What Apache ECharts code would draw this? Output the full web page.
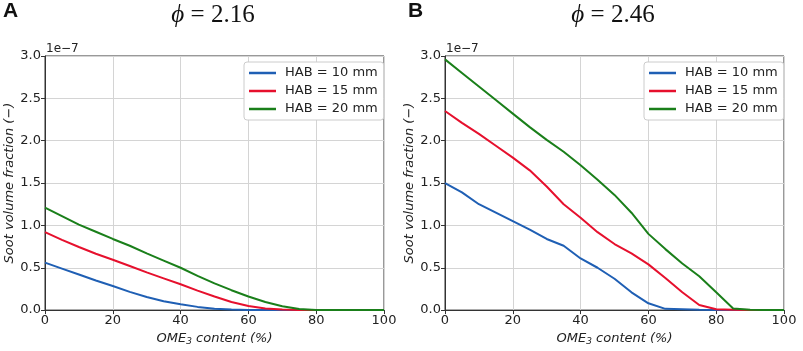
<!DOCTYPE html>
<html>
<head>
<meta charset="utf-8">
<script src="https://cdn.jsdelivr.net/npm/echarts@6/dist/echarts.min.js"></script>
<style>
  html, body { margin: 0; padding: 0; background: #fff; }
  #chart { width: 803px; height: 351px; }
</style>
</head>
<body>
<div id="chart"></div>
<script>
// OME3 content (%), shared by both panels
var omeContent = [0, 5, 10, 15, 20, 25, 30, 35, 40, 45, 50, 55, 60, 65, 70, 75, 80, 85, 90, 95, 100];
var seriesNames = ['HAB = 10 mm', 'HAB = 15 mm', 'HAB = 20 mm'];

// panel A, phi = 2.16  (units of 1e-7)
var a_hab10 = [0.56, 0.49, 0.42, 0.35, 0.285, 0.215, 0.155, 0.105, 0.068, 0.038, 0.017, 0.006, 0.001, 0, 0, 0, 0, 0, 0, 0, 0];
var a_hab15 = [0.92, 0.83, 0.745, 0.665, 0.595, 0.52, 0.445, 0.375, 0.305, 0.23, 0.16, 0.095, 0.048, 0.018, 0.006, 0.001, 0, 0, 0, 0, 0];
var a_hab20 = [1.21, 1.11, 1.01, 0.925, 0.84, 0.76, 0.67, 0.585, 0.50, 0.405, 0.315, 0.235, 0.16, 0.095, 0.045, 0.012, 0.002, 0, 0, 0, 0];

// panel B, phi = 2.46
var b_hab10 = [1.50, 1.39, 1.25, 1.15, 1.05, 0.95, 0.84, 0.76, 0.61, 0.50, 0.37, 0.21, 0.08, 0.015, 0.01, 0.005, 0.002, 0, 0, 0, 0];
var b_hab15 = [2.35, 2.21, 2.08, 1.94, 1.80, 1.65, 1.46, 1.25, 1.09, 0.92, 0.78, 0.67, 0.54, 0.38, 0.21, 0.06, 0.01, 0.005, 0, 0, 0];
var b_hab20 = [2.96, 2.80, 2.64, 2.48, 2.32, 2.16, 2.01, 1.87, 1.71, 1.54, 1.36, 1.15, 0.90, 0.72, 0.55, 0.40, 0.21, 0.02, 0.005, 0, 0];

var colors = ['#1f5fb4', '#e6102d', '#1a7f1a'];

function pairs(ys) {
    return omeContent.map(function (x, i) { return [x, ys[i]]; });
}

var chart = echarts.init(document.getElementById('chart'));

var axisFont = 'DejaVu Sans';
var frameColor = '#333';

function makeX(idx) {
    return {
        type: 'value', gridIndex: idx, min: 0, max: 100, interval: 20,
        name: 'OME{sub|3} content (%)',
        nameLocation: 'middle', nameGap: 19,
        nameTextStyle: {
            fontFamily: axisFont, fontStyle: 'italic', fontSize: 13, color: '#222',
            rich: { sub: { fontFamily: axisFont, fontStyle: 'italic', fontSize: 9, verticalAlign: 'bottom', padding: [6, 0, 0, 0], color: '#222' } }
        },
        axisLine: { show: true, onZero: false, lineStyle: { color: frameColor, width: 1 } },
        axisTick: { show: true, length: 4, inside: false, lineStyle: { color: frameColor } },
        axisLabel: { fontFamily: axisFont, fontSize: 13, color: '#222', margin: 4 },
        splitLine: { show: true, lineStyle: { color: '#d4d4d4', width: 1 } }
    };
}

function makeY(idx) {
    return {
        type: 'value', gridIndex: idx, min: 0, max: 3.0, interval: 0.5,
        name: 'Soot volume fraction (−)',
        nameLocation: 'middle', nameGap: 25,
        nameTextStyle: { fontFamily: axisFont, fontStyle: 'italic', fontSize: 13, color: '#222' },
        axisLine: { show: true, lineStyle: { color: frameColor, width: 1 } },
        axisTick: { show: true, length: 4, inside: false, lineStyle: { color: frameColor } },
        axisLabel: {
            fontFamily: axisFont, fontSize: 13, color: '#222', margin: 4,
            formatter: function (v) { return v.toFixed(1); }
        },
        splitLine: { show: true, lineStyle: { color: '#d4d4d4', width: 1 } }
    };
}

function makeLine(name, idx, ys, color) {
    return {
        name: name, type: 'line', xAxisIndex: idx, yAxisIndex: idx,
        data: pairs(ys), symbol: 'none', smooth: false,
        lineStyle: { color: color, width: 2 }, itemStyle: { color: color },
        emphasis: { disabled: true }
    };
}

function makeLegend(left) {
    return {
        data: seriesNames, orient: 'vertical', left: left, top: 62,
        icon: 'rect', itemWidth: 27, itemHeight: 2.5, itemGap: 4,
        padding: [4, 6, 4, 5],
        backgroundColor: '#fff', borderColor: '#ccc', borderWidth: 1, borderRadius: 3,
        textStyle: { fontFamily: axisFont, fontSize: 13, color: '#222', padding: [0, 0, 0, 4], lineHeight: 14 }
    };
}

var titleRich = { i: { fontFamily: 'Liberation Serif', fontStyle: 'italic', fontSize: 25 } };

chart.setOption({
    animation: false,
    grid: [
        { left: 45, top: 56, width: 339, height: 255, show: true, borderColor: frameColor, borderWidth: 1 },
        { left: 445, top: 56, width: 339, height: 255, show: true, borderColor: frameColor, borderWidth: 1 }
    ],
    xAxis: [makeX(0), makeX(1)],
    yAxis: [makeY(0), makeY(1)],
    legend: [makeLegend(244), makeLegend(644)],
    series: [
        makeLine(seriesNames[0], 0, a_hab10, colors[0]),
        makeLine(seriesNames[1], 0, a_hab15, colors[1]),
        makeLine(seriesNames[2], 0, a_hab20, colors[2]),
        makeLine(seriesNames[0], 1, b_hab10, colors[0]),
        makeLine(seriesNames[1], 1, b_hab15, colors[1]),
        makeLine(seriesNames[2], 1, b_hab20, colors[2])
    ],
    graphic: [
        { type: 'text', left: 3, top: 1, style: { text: 'A', fontFamily: 'Liberation Sans', fontWeight: 'bold', fontSize: 21, fill: '#111' } },
        { type: 'text', left: 408, top: 1, style: { text: 'B', fontFamily: 'Liberation Sans', fontWeight: 'bold', fontSize: 21, fill: '#111' } },
        { type: 'text', x: 213, y: 15, style: { text: '{i|ϕ} = 2.16', align: 'center', verticalAlign: 'middle', fontFamily: 'Liberation Serif', fontSize: 25, fill: '#111', rich: titleRich } },
        { type: 'text', x: 613, y: 15, style: { text: '{i|ϕ} = 2.46', align: 'center', verticalAlign: 'middle', fontFamily: 'Liberation Serif', fontSize: 25, fill: '#111', rich: titleRich } },
        { type: 'text', left: 46, top: 43, style: { text: '1e−7', fontFamily: axisFont, fontSize: 12, fill: '#222' } },
        { type: 'text', left: 446, top: 43, style: { text: '1e−7', fontFamily: axisFont, fontSize: 12, fill: '#222' } }
    ]
});
</script>
</body>
</html>
